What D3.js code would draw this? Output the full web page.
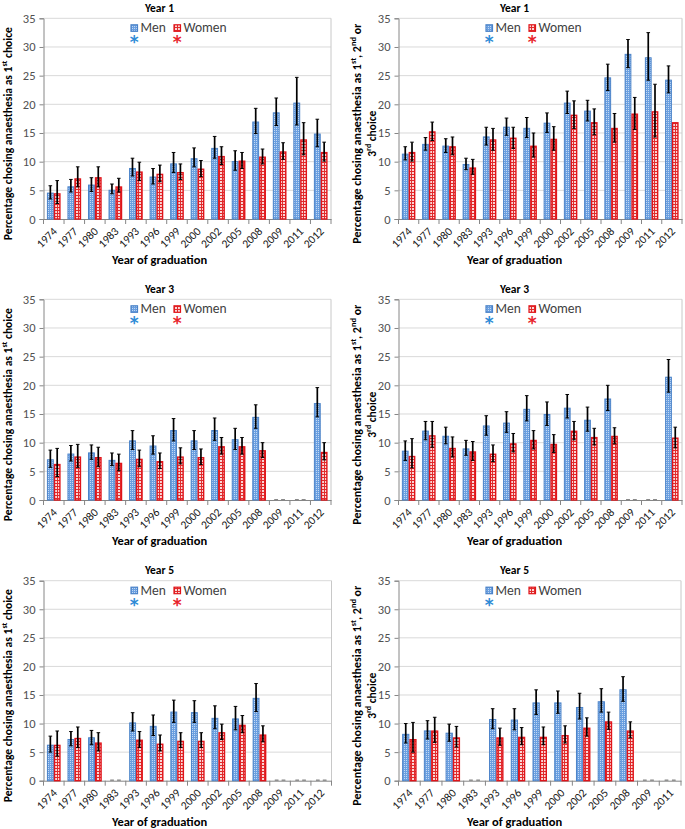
<!DOCTYPE html>
<html><head><meta charset="utf-8">
<script src="https://cdn.jsdelivr.net/npm/d3@7"></script>
<style>body{margin:0;background:#fff}</style>
</head><body><svg id="c" width="685" height="829"></svg>
<script>
const categories = ["1974","1977","1980","1983","1993","1996","1999","2000","2002","2005","2008","2009","2011","2012"];
const categoriesY5Any = ["1974","1977","1980","1983","1993","1996","1999","2000","2002","2005","2008","2009","2011"];
const yTicks = [0,5,10,15,20,25,30,35];

// Year 1, 1st choice
const y1FirstMen   = [4.6,5.7,6.0,5.1,8.9,7.4,9.7,10.6,12.4,10.1,17.0,18.6,20.3,14.9];
const y1FirstMenLo = [3.5,4.7,4.8,4.4,7.5,6.1,8.1,9.1,10.6,8.5,14.9,16.3,16.4,12.6];
const y1FirstMenHi = [5.8,6.9,7.2,6.1,10.6,8.8,11.6,12.4,14.4,11.9,19.3,21.1,24.7,17.4];
const y1FirstWomen   = [4.5,7.1,7.3,5.7,8.3,7.9,8.2,8.8,11.0,10.2,10.9,11.8,13.9,11.7];
const y1FirstWomenLo = [2.7,5.6,5.6,4.7,6.7,6.5,6.9,7.4,9.5,8.8,9.6,10.4,11.2,10.1];
const y1FirstWomenHi = [6.7,9.1,9.1,7.1,9.9,9.4,9.6,10.2,12.6,11.6,12.2,13.3,16.8,13.4];

// Year 1, 1st, 2nd or 3rd choice
const y1AnyMen   = [11.4,13.1,12.8,9.6,14.4,16.1,15.9,16.8,20.3,18.9,24.7,28.8,28.2,24.3];
const y1AnyMenLo = [10.3,12.0,11.6,8.6,12.9,14.6,14.2,15.1,18.4,17.1,22.4,26.4,24.2,22.0];
const y1AnyMenHi = [12.6,14.2,14.0,10.6,16.0,17.6,17.7,18.5,22.3,20.7,27.0,31.3,32.5,26.7];
const y1AnyWomen   = [11.7,15.3,12.7,9.0,13.9,14.2,12.8,14.0,18.2,16.9,15.9,18.4,18.8,16.9];
const y1AnyWomenLo = [10.1,13.7,11.2,7.8,12.0,12.3,10.8,12.0,15.8,14.7,13.4,15.6,14.3,null];
const y1AnyWomenHi = [13.4,16.9,14.3,10.4,15.8,16.0,15.0,16.1,20.6,19.2,18.4,21.2,23.5,null];

// Year 3, 1st choice
const y3FirstMen   = [7.1,8.1,8.3,7.0,10.4,9.5,12.2,10.4,12.2,10.6,14.5,0,0,16.9];
const y3FirstMenLo = [5.7,6.8,7.1,6.0,8.8,8.0,10.3,8.8,10.4,8.8,12.5,0,0,14.5];
const y3FirstMenHi = [8.7,9.5,9.6,8.2,12.1,11.2,14.2,12.1,14.3,12.5,16.6,0,0,19.6];
const y3FirstWomen   = [6.3,7.6,7.5,6.5,7.2,6.8,7.6,7.5,9.4,9.4,8.7,0,0,8.4];
const y3FirstWomenLo = [4.1,5.7,5.8,5.1,5.8,5.5,6.3,6.2,8.0,8.0,7.4,0,0,7.0];
const y3FirstWomenHi = [9.0,9.7,9.2,8.0,8.7,8.2,9.1,8.9,10.9,10.9,10.0,0,0,10.0];

// Year 3, 1st, 2nd or 3rd choice
const y3AnyMen   = [8.6,12.1,11.2,9.0,13.0,13.5,15.9,15.0,16.1,14.0,17.7,0,0,21.5];
const y3AnyMenLo = [6.9,10.5,9.8,7.8,11.3,11.8,13.8,13.0,14.3,12.0,15.6,0,0,18.8];
const y3AnyMenHi = [10.3,13.7,12.7,10.4,14.7,15.4,18.2,17.1,18.4,16.2,20.0,0,0,24.5];
const y3AnyWomen   = [7.7,11.3,9.1,8.5,8.1,9.9,10.5,9.8,12.1,11.0,11.2,0,0,10.9];
const y3AnyWomenLo = [5.6,9.2,7.5,6.9,6.7,8.4,8.9,8.3,10.5,9.6,9.8,0,0,9.1];
const y3AnyWomenHi = [10.7,13.7,11.0,10.2,9.6,11.6,12.1,11.4,13.7,12.5,12.6,0,0,12.7];

// Year 5, 1st choice
const y5FirstMen   = [6.3,7.3,7.6,0,10.2,9.6,12.1,12.0,11.0,10.9,14.5,0,0,0];
const y5FirstMenLo = [5.0,6.1,6.3,0,8.7,7.9,10.2,10.2,9.1,8.9,12.1,0,0,0];
const y5FirstMenHi = [7.8,8.6,8.8,0,11.9,11.5,14.1,14.0,13.1,13.0,17.0,0,0,0];
const y5FirstWomen   = [6.3,7.5,6.7,0,7.2,6.5,7.0,7.0,8.5,9.8,8.1,0,0,0];
const y5FirstWomenLo = [4.3,5.8,5.2,0,5.8,5.2,5.8,5.8,7.2,8.4,6.8,0,0,0];
const y5FirstWomenHi = [8.7,9.4,8.4,0,8.6,8.0,8.4,8.4,9.9,11.4,9.6,0,0,0];

// Year 5, 1st, 2nd or 3rd choice
const y5AnyMen   = [8.2,8.8,8.4,0,10.8,10.7,13.7,13.7,12.9,13.9,16.0,0,0];
const y5AnyMenLo = [6.6,7.3,6.9,0,9.1,8.9,11.6,11.8,10.8,12.0,13.9,0,0];
const y5AnyMenHi = [10.0,10.5,9.9,0,12.6,12.6,15.9,15.7,15.3,16.1,18.2,0,0];
const y5AnyWomen   = [7.3,8.8,7.6,0,7.6,7.7,7.7,8.0,9.3,10.4,8.8,0,0];
const y5AnyWomenLo = [5.0,6.7,5.9,0,6.2,6.3,6.3,6.6,7.8,9.0,7.5,0,0];
const y5AnyWomenHi = [10.2,11.1,9.5,0,9.2,9.3,9.4,9.6,11.0,12.0,10.3,0,0];

const FONT = "Carlito, Lato, 'Open Sans', sans-serif";
const svg = d3.select("#c");
svg.append("rect").attr("width",685).attr("height",829).attr("fill","#fff");

const defs = svg.append("defs");
const pb = defs.append("pattern").attr("id","pBlue").attr("width",2).attr("height",2).attr("patternUnits","userSpaceOnUse");
pb.append("rect").attr("width",2).attr("height",2).attr("fill","#6a9fe0");
pb.append("rect").attr("width",1).attr("height",1).attr("fill","#c2d9f4");
const pr = defs.append("pattern").attr("id","pRed").attr("width",3).attr("height",3).attr("patternUnits","userSpaceOnUse");
pr.append("rect").attr("width",3).attr("height",3).attr("fill","#fbd6d6");
pr.append("rect").attr("width",3).attr("height",1).attr("fill","#e02c2c");
pr.append("rect").attr("width",1).attr("height",3).attr("fill","#e02c2c");

const BLUE_STROKE = "#4a82c8", RED_STROKE = "#e0141a";

function addSup(textSel, parts) {
  parts.forEach(p => {
    const t = textSel.append("tspan").text(p[0]);
    if (p[1]) t.attr("baseline-shift","super").attr("font-size","70%");
  });
}

function drawPanel(cfg) {
  const g = svg.append("g");
  const y = d3.scaleLinear().domain([0,35]).range([cfg.bottom, cfg.top]);
  const x = d3.scaleBand().domain(cfg.cats).range([cfg.left, cfg.right]).padding(0);
  const inner = d3.scaleBand().domain(["men","women"]).range([0, x.bandwidth()]).paddingInner(0).paddingOuter(0.5);

  g.selectAll(".grid").data(yTicks.filter(t => t > 0)).join("line")
    .attr("x1", cfg.left).attr("x2", cfg.right)
    .attr("y1", d => y(d)).attr("y2", d => y(d))
    .attr("stroke", "#d9d9d9").attr("stroke-width", 1);
  g.append("line").attr("x1", cfg.right).attr("x2", cfg.right)
    .attr("y1", cfg.top).attr("y2", cfg.bottom).attr("stroke", "#c8c8c8");

  const ya = g.append("g").attr("transform", `translate(${cfg.left},0)`)
    .call(d3.axisLeft(y).tickValues(yTicks).tickSize(4).tickPadding(4));
  ya.select(".domain").attr("stroke", "#868686");
  ya.selectAll(".tick line").attr("stroke", "#868686");
  ya.selectAll("text").attr("font-family", FONT).attr("font-size", 12.5).attr("fill", "#505050");

  const xa = g.append("g").attr("transform", `translate(0,${cfg.bottom})`)
    .call(d3.axisBottom(x).tickSize(0).tickSizeOuter(0));
  xa.select(".domain").attr("stroke", "#868686");
  xa.selectAll("text")
    .attr("x", 0).attr("y", 0).attr("dy", null)
    .attr("transform", "translate(4,13) rotate(-45)")
    .style("text-anchor", "end")
    .attr("font-family", FONT).attr("font-size", 11.5).attr("fill", "#202020");
  const bounds = cfg.cats.map(c => x(c)).concat([cfg.right]);
  g.selectAll(".btick").data(bounds).join("line")
    .attr("x1", d => d).attr("x2", d => d)
    .attr("y1", cfg.bottom).attr("y2", cfg.bottom + 5)
    .attr("stroke", "#868686");

  const series = [
    {key: "men", vals: cfg.men, lo: cfg.menLo, hi: cfg.menHi, fill: "url(#pBlue)", stroke: BLUE_STROKE, sw: 1},
    {key: "women", vals: cfg.women, lo: cfg.womenLo, hi: cfg.womenHi, fill: "url(#pRed)", stroke: RED_STROKE, sw: 1.4}
  ];
  series.forEach(s => {
    const rows = cfg.cats.map((c, i) => ({c, v: s.vals[i], lo: s.lo[i], hi: s.hi[i]}));
    g.selectAll(".bar-" + s.key).data(rows.filter(r => r.v > 0)).join("rect")
      .attr("x", r => x(r.c) + inner(s.key) + s.sw / 2)
      .attr("width", inner.bandwidth() - s.sw)
      .attr("y", r => y(r.v) + s.sw / 2)
      .attr("height", r => y(0) - y(r.v) - s.sw / 2)
      .attr("fill", s.fill).attr("stroke", s.stroke).attr("stroke-width", s.sw);
    const eb = rows.filter(r => r.lo !== null && r.hi !== null);
    const cx = r => x(r.c) + inner(s.key) + inner.bandwidth() / 2;
    g.selectAll(".err-" + s.key).data(eb.filter(r => r.hi > r.lo)).join("line")
      .attr("x1", cx).attr("x2", cx)
      .attr("y1", r => y(r.lo)).attr("y2", r => y(r.hi))
      .attr("stroke", "#000").attr("stroke-width", 1.7);
    ["lo", "hi"].forEach(k => {
      g.selectAll(".cap-" + s.key + k).data(eb).join("line")
        .attr("x1", r => cx(r) - 1.8).attr("x2", r => cx(r) + 1.8)
        .attr("y1", r => y(r[k]) - (r.v === 0 ? 0.5 : 0)).attr("y2", r => y(r[k]) - (r.v === 0 ? 0.5 : 0))
        .attr("stroke", r => r.v === 0 ? "#8a8a8a" : "#000").attr("stroke-width", 1);
    });
  });

  g.append("text").attr("x", cfg.left + 116).attr("y", cfg.top - 6.5)
    .attr("text-anchor", "middle").attr("font-family", FONT).attr("font-weight", "bold")
    .attr("font-size", 11.5).attr("fill", "#000").text(cfg.title);

  g.append("text").attr("x", cfg.left + 116).attr("y", cfg.bottom + 45)
    .attr("text-anchor", "middle").attr("font-family", FONT).attr("font-weight", "bold")
    .attr("font-size", 12.5).attr("fill", "#000").text("Year of graduation");

  const cy = (cfg.top + cfg.bottom) / 2 + 15;
  cfg.yTitle.forEach((line, li) => {
    const bx = cfg.yTitleX[li];
    const t = g.append("text").attr("x", bx).attr("y", cy)
      .attr("transform", `rotate(-90,${bx},${cy})`)
      .attr("text-anchor", "middle").attr("font-family", FONT).attr("font-weight", "bold")
      .attr("font-size", 11.5).attr("fill", "#000");
    if (cfg.yTitleLen[li]) t.attr("textLength", cfg.yTitleLen[li]).attr("lengthAdjust", "spacingAndGlyphs");
    addSup(t, line);
  });

  const lx = cfg.left + 87, ly = cfg.top + 6;
  const leg = [
    {label: "Men", fill: "url(#pBlue)", stroke: BLUE_STROKE, star: "#2e8bd6", dx: 0, show: cfg.stars[0]},
    {label: "Women", fill: "url(#pRed)", stroke: RED_STROKE, star: "#e8232a", dx: 43, show: cfg.stars[1]}
  ];
  leg.forEach(l => {
    g.append("rect").attr("x", lx + l.dx + 0.5).attr("y", ly + 0.5).attr("width", 6.5).attr("height", 6.5)
      .attr("fill", l.fill).attr("stroke", l.stroke).attr("stroke-width", 1.2);
    g.append("text").attr("x", lx + l.dx + 10).attr("y", ly + 8)
      .attr("font-family", FONT).attr("font-size", 13.5).attr("fill", "#404040").text(l.label);
    if (l.show) {
      g.append("text").attr("x", lx + l.dx + 3.8).attr("y", ly + 24)
        .attr("text-anchor", "middle").attr("font-family", "'DejaVu Sans', sans-serif").attr("font-weight", "bold")
        .attr("font-size", 17).attr("fill", l.star).text("*");
    }
  });
}

const firstTitle = [[["Percentage chosing anaesthesia as 1"], ["st", true], [" choice"]]];
const anyTitle = [
  [["Percentage chosing anaesthesia as 1"], ["st", true], [", 2"], ["nd", true], [" or"]],
  [["3"], ["rd", true], [" choice"]]
];

const panels = [
  {left: 43.5, right: 331, top: 18.3, bottom: 219, cats: categories, title: "Year 1",
   men: y1FirstMen, menLo: y1FirstMenLo, menHi: y1FirstMenHi, women: y1FirstWomen, womenLo: y1FirstWomenLo, womenHi: y1FirstWomenHi,
   yTitle: firstTitle, yTitleX: [12.5], yTitleLen: [213], stars: [true, true]},
  {left: 398.5, right: 682, top: 18.3, bottom: 219, cats: categories, title: "Year 1",
   men: y1AnyMen, menLo: y1AnyMenLo, menHi: y1AnyMenHi, women: y1AnyWomen, womenLo: y1AnyWomenLo, womenHi: y1AnyWomenHi,
   yTitle: anyTitle, yTitleX: [361, 376], yTitleLen: [220, null], stars: [true, true]},
  {left: 43.5, right: 331, top: 299.3, bottom: 500, cats: categories, title: "Year 3",
   men: y3FirstMen, menLo: y3FirstMenLo, menHi: y3FirstMenHi, women: y3FirstWomen, womenLo: y3FirstWomenLo, womenHi: y3FirstWomenHi,
   yTitle: firstTitle, yTitleX: [12.5], yTitleLen: [213], stars: [true, true]},
  {left: 398.5, right: 682, top: 299.3, bottom: 500, cats: categories, title: "Year 3",
   men: y3AnyMen, menLo: y3AnyMenLo, menHi: y3AnyMenHi, women: y3AnyWomen, womenLo: y3AnyWomenLo, womenHi: y3AnyWomenHi,
   yTitle: anyTitle, yTitleX: [361, 376], yTitleLen: [220, null], stars: [true, true]},
  {left: 43.5, right: 331.5, top: 580.7, bottom: 780.7, cats: categories, title: "Year 5",
   men: y5FirstMen, menLo: y5FirstMenLo, menHi: y5FirstMenHi, women: y5FirstWomen, womenLo: y5FirstWomenLo, womenHi: y5FirstWomenHi,
   yTitle: firstTitle, yTitleX: [12.5], yTitleLen: [213], stars: [true, true]},
  {left: 398.5, right: 681, top: 580.7, bottom: 780.7, cats: categoriesY5Any, title: "Year 5",
   men: y5AnyMen, menLo: y5AnyMenLo, menHi: y5AnyMenHi, women: y5AnyWomen, womenLo: y5AnyWomenLo, womenHi: y5AnyWomenHi,
   yTitle: anyTitle, yTitleX: [361, 376], yTitleLen: [220, null], stars: [true, false]}
];
panels.forEach(drawPanel);
</script></body></html>
